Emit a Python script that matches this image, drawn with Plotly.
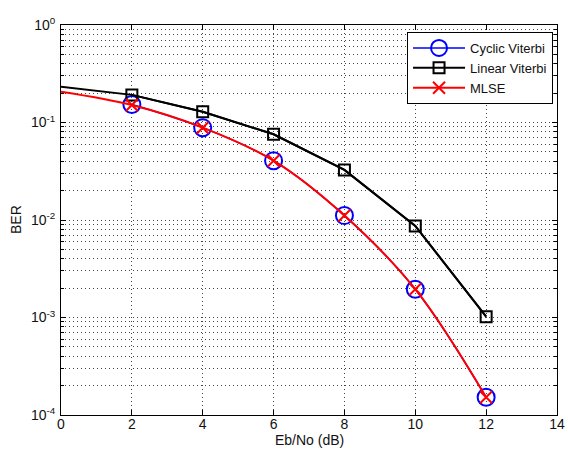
import plotly.graph_objects as go

# ---- data ----
ebno = [0, 2, 4, 6, 8, 10, 12]
ber_linear = [0.233, 0.192, 0.129, 0.0757, 0.0326, 0.0087, 0.00102]
ebno_cyclic = [2, 4, 6, 8, 10, 12]
ber_cyclic = [0.153, 0.0885, 0.0406, 0.0111, 0.00195, 0.000152]
ber_mlse = [0.207, 0.151, 0.0885, 0.0406, 0.0111, 0.00195, 0.000152]

x_ticks = [0, 2, 4, 6, 8, 10, 12, 14]
y_ticks = [1e-4, 1e-3, 1e-2, 1e-1, 1e0]
y_ticktext = ["10<sup>-4</sup>", "10<sup>-3</sup>", "10<sup>-2</sup>",
              "10<sup>-1</sup>", "10<sup>0</sup>"]
y_minor = [m * 10.0 ** e for e in range(-4, 0) for m in range(2, 10)]

FONT = "Liberation Sans, Arial, sans-serif"
GRID = "#444"

fig = go.Figure()

# Cyclic Viterbi
fig.add_trace(go.Scatter(
    x=ebno_cyclic, y=ber_cyclic, mode="lines+markers", name="Cyclic Viterbi",
    line=dict(color="#0000ff", width=1.5, shape="spline", smoothing=1),
    marker=dict(symbol="circle-open", size=17, color="#0000ff",
                line=dict(width=2, color="#0000ff")),
))
# Linear Viterbi: line from 0, markers from 2
fig.add_trace(go.Scatter(
    x=ebno, y=ber_linear, mode="lines", showlegend=False,
    line=dict(color="#000000", width=2), hoverinfo="skip",
))
fig.add_trace(go.Scatter(
    x=ebno[1:], y=ber_linear[1:], mode="lines+markers", name="Linear Viterbi",
    line=dict(color="#000000", width=2),
    marker=dict(symbol="square-open", size=11, color="#000000",
                line=dict(width=2, color="#000000")),
))
# MLSE
fig.add_trace(go.Scatter(
    x=ebno, y=ber_mlse, mode="lines", showlegend=False,
    line=dict(color="#ff0000", width=2, shape="spline", smoothing=1),
    hoverinfo="skip",
))
fig.add_trace(go.Scatter(
    x=ebno[1:], y=ber_mlse[1:], mode="markers", name="MLSE",
    marker=dict(symbol="x-thin-open", size=12, color="#ff0000",
                line=dict(width=2, color="#ff0000")),
    showlegend=False,
))
fig.add_trace(go.Scatter(
    x=[None], y=[None], mode="lines+markers", name="MLSE",
    line=dict(color="#ff0000", width=2),
    marker=dict(symbol="x-thin-open", size=12, color="#ff0000",
                line=dict(width=2, color="#ff0000")),
))

fig.update_layout(
    width=568, height=455,
    margin=dict(l=61, r=11, t=25, b=40),
    paper_bgcolor="white", plot_bgcolor="white",
    font=dict(family=FONT, size=14, color="#111"),
    showlegend=True,
    legend=dict(
        x=0.992, y=0.982, xanchor="right", yanchor="top",
        bgcolor="white", bordercolor="black", borderwidth=1,
        font=dict(family=FONT, size=13, color="#111"),
        tracegroupgap=0, itemwidth=52,
    ),
    xaxis=dict(
        range=[0, 14], tickmode="array", tickvals=x_ticks,
        ticks="inside", ticklen=5, tickcolor="black",
        showline=True, linecolor="black", linewidth=1, mirror="ticks",
        showgrid=True, gridcolor=GRID, griddash="1px,3px", gridwidth=1,
        zeroline=False, ticklabelstandoff=-4, automargin=False,
    ),
    yaxis=dict(
        type="log", range=[-4, 0], tickmode="array",
        tickvals=y_ticks, ticktext=y_ticktext,
        ticks="inside", ticklen=5, tickcolor="black",
        showline=True, linecolor="black", linewidth=1, mirror="ticks",
        showgrid=True, gridcolor=GRID, griddash="1px,3px", gridwidth=1,
        zeroline=False, ticklabelstandoff=2, automargin=False,
        minor=dict(tickmode="array", tickvals=y_minor, ticks="inside",
                   ticklen=3, tickcolor="black", showgrid=True,
                   gridcolor=GRID, griddash="1px,3px", gridwidth=1),
    ),
    annotations=[
        dict(text="Eb/No (dB)", xref="paper", yref="paper",
             x=0.5, y=-0.064, xanchor="center", yanchor="middle",
             showarrow=False, font=dict(family=FONT, size=14, color="#111")),
        dict(text="BER", xref="paper", yref="paper",
             x=-0.0907, y=0.5, xanchor="center", yanchor="middle",
             textangle=-90, showarrow=False,
             font=dict(family=FONT, size=14, color="#111")),
    ],
)

# remove the default 8px page margin so the figure fills the window exactly
fig.write_html("out.html",
               config={"displayModeBar": False},
               post_script="document.body.style.margin='0px';"
                           "document.body.style.overflow='hidden';")
